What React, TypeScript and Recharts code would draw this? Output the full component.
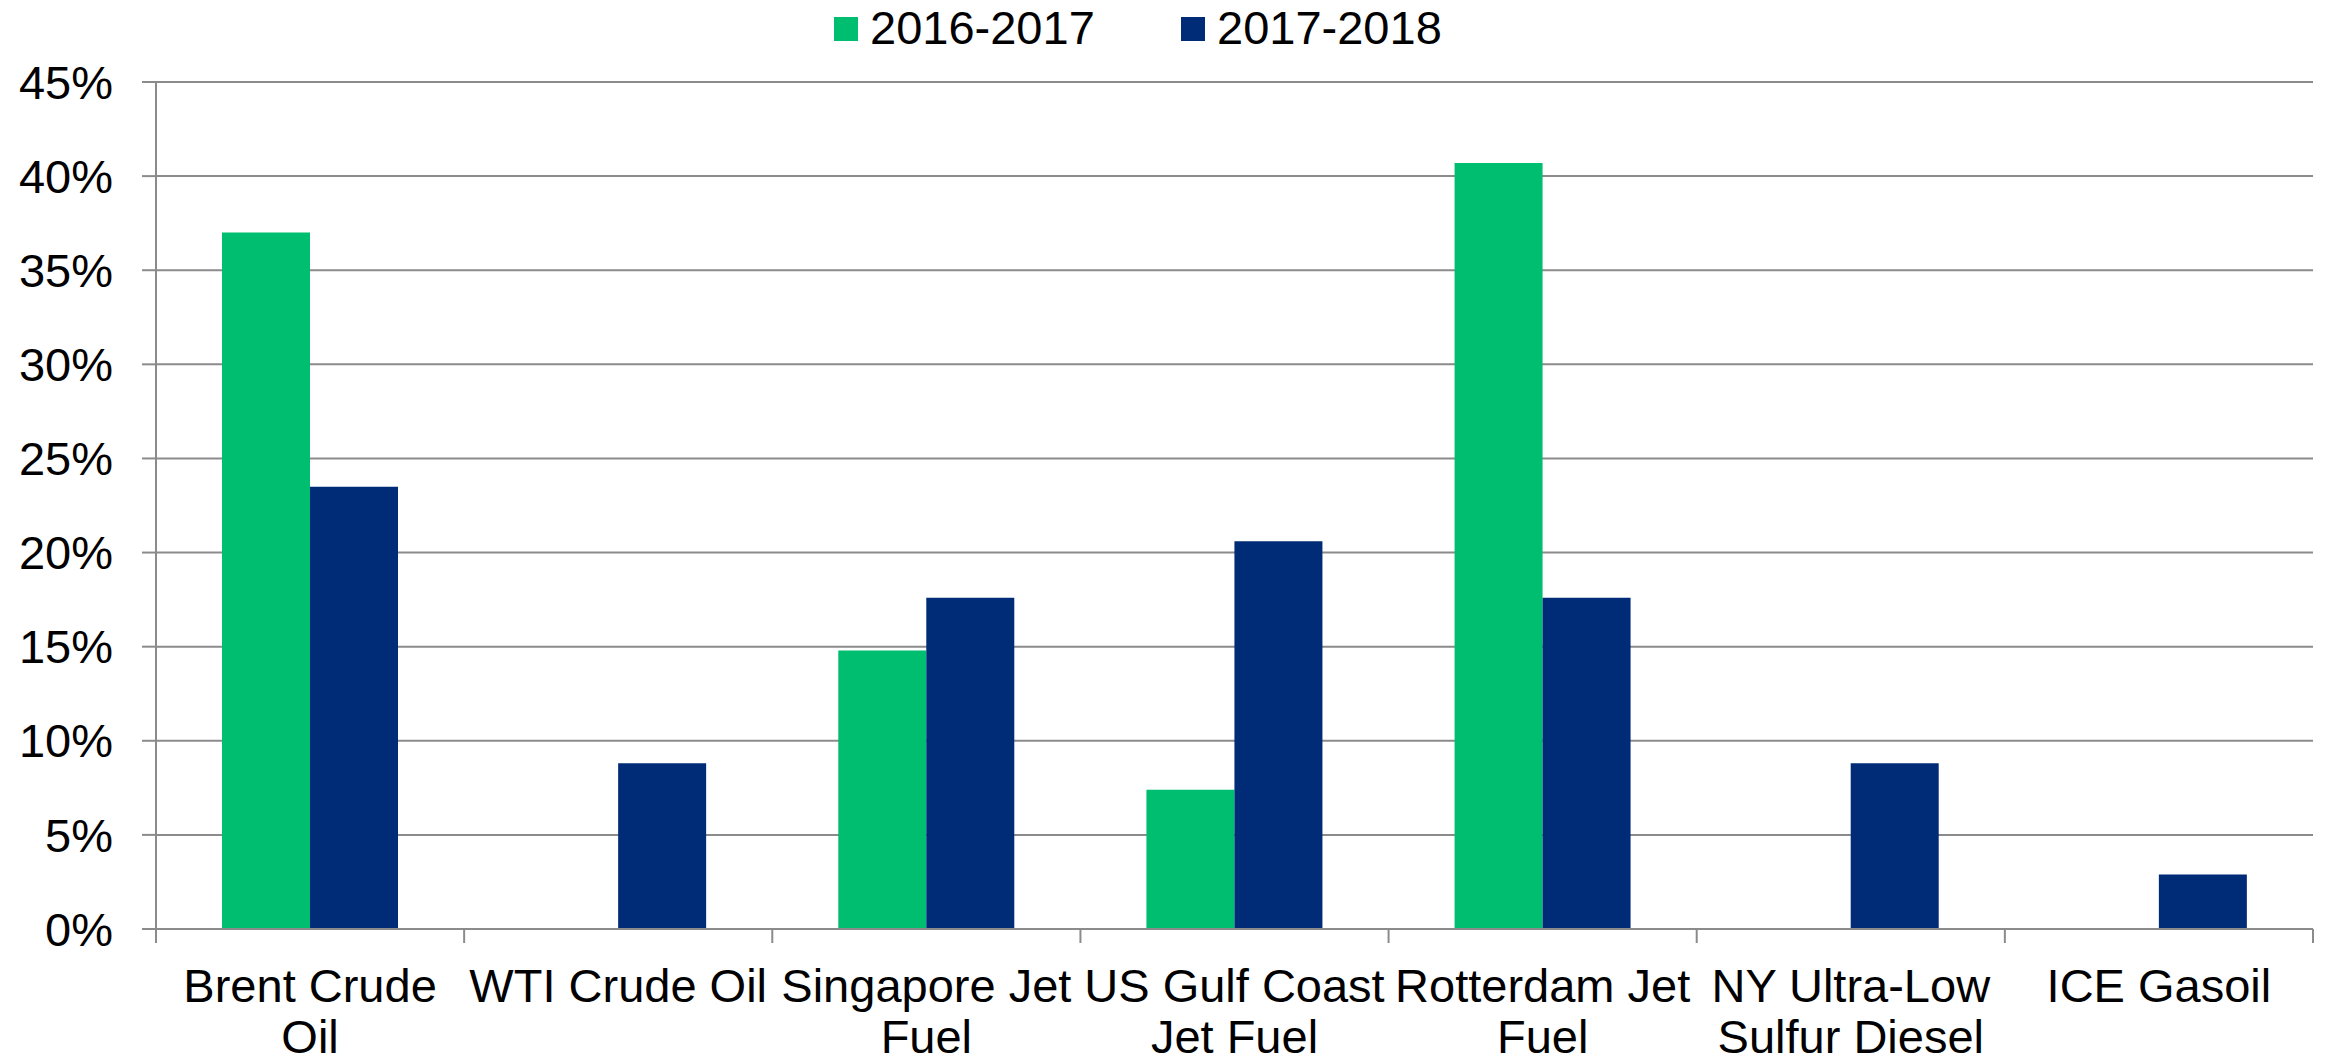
import React from "react";
import { Bar, BarChart, CartesianGrid, XAxis, YAxis } from "recharts";

const categories = [
  "Brent Crude\nOil",
  "WTI Crude Oil",
  "Singapore Jet\nFuel",
  "US Gulf Coast\nJet Fuel",
  "Rotterdam Jet\nFuel",
  "NY Ultra-Low\nSulfur Diesel",
  "ICE Gasoil",
];
const seriesNames = ["2016-2017", "2017-2018"];
const values2016 = [37.0, 0, 14.8, 7.4, 40.7, 0, 0];
const values2017 = [23.5, 8.8, 17.6, 20.6, 17.6, 8.8, 2.9];
const yTicks = [0, 5, 10, 15, 20, 25, 30, 35, 40, 45];

const GREEN = "#00BE6F";
const BLUE = "#002B77";
const GRID = "#8B8B8B";
const FONT = "'Liberation Sans', Arial, sans-serif";

const W = 2328;
const H = 1063;
const MARGIN = { top: 82, right: 15, left: 0, bottom: 0 };
const Y_WIDTH = 156;
const BAND = (W - Y_WIDTH - MARGIN.right) / categories.length;

const data = categories.map((name, i) => ({
  name,
  a: values2016[i],
  b: values2017[i],
}));

function CategoryTick(props: any) {
  const { x, y, payload, index, visibleTicksCount } = props;
  const half = payload && payload.offset ? payload.offset : BAND / 2;
  const lines = String(payload.value).split("\n");
  return (
    <g>
      <line x1={x - half} x2={x - half} y1={y} y2={y + 14} stroke={GRID} strokeWidth={2} />
      {index === visibleTicksCount - 1 && (
        <line x1={x + half} x2={x + half} y1={y} y2={y + 14} stroke={GRID} strokeWidth={2} />
      )}
      <text textAnchor="middle" fontSize={47} fontFamily={FONT} fill="#000">
        {lines.map((l, i) => (
          <tspan key={i} x={x} y={y + 73 + i * 51}>
            {l}
          </tspan>
        ))}
      </text>
    </g>
  );
}

function LegendBar() {
  const items = [
    { name: seriesNames[0], color: GREEN, x: 834 },
    { name: seriesNames[1], color: BLUE, x: 1181 },
  ];
  return (
    <svg width={W} height={70} style={{ position: "absolute", left: 0, top: 0 }}>
      {items.map((it) => (
        <g key={it.name}>
          <rect x={it.x} y={17} width={24} height={24} fill={it.color} />
          <text x={it.x + 36} y={44} fontSize={47} fontFamily={FONT} fill="#000">
            {it.name}
          </text>
        </g>
      ))}
    </svg>
  );
}

export default function App() {
  return (
    <div style={{ position: "absolute", left: 0, top: 0, width: W, height: H, background: "#fff" }}>
      <BarChart width={W} height={H} data={data} margin={MARGIN} barGap={0} barSize={88}>
        <CartesianGrid vertical={false} stroke={GRID} strokeWidth={2} />
        <XAxis
          dataKey="name"
          interval={0}
          height={H - 929}
          tickSize={0}
          tickMargin={0}
          tickLine={false}
          axisLine={{ stroke: GRID, strokeWidth: 2 }}
          tick={<CategoryTick />}
        />
        <YAxis
          width={Y_WIDTH}
          domain={[0, 45]}
          ticks={yTicks}
          interval={0}
          tickFormatter={(v: number) => `${v}%`}
          tickSize={14}
          tickMargin={29}
          tickLine={{ stroke: GRID, strokeWidth: 2 }}
          axisLine={{ stroke: GRID, strokeWidth: 2 }}
          tick={{ fontSize: 47, fontFamily: FONT, fill: "#000" }}
        />
        <Bar dataKey="a" name={seriesNames[0]} fill={GREEN} isAnimationActive={false} />
        <Bar dataKey="b" name={seriesNames[1]} fill={BLUE} isAnimationActive={false} />
      </BarChart>
      <LegendBar />
    </div>
  );
}
